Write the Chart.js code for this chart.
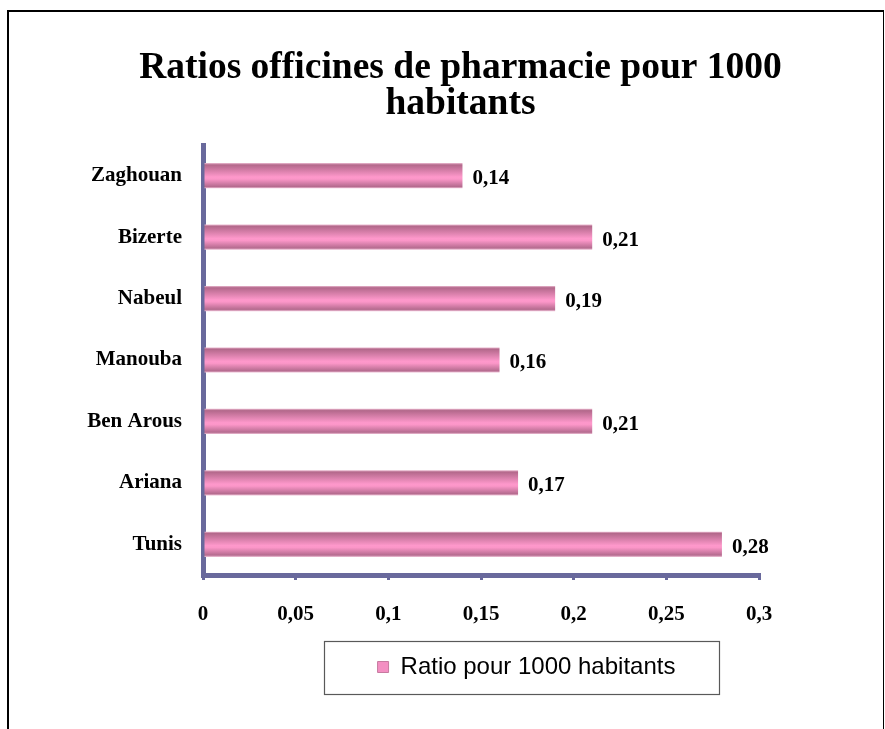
<!DOCTYPE html>
<html>
<head>
<meta charset="utf-8">
<title>Ratios officines de pharmacie</title>
<script src="https://cdn.jsdelivr.net/npm/chart.js@4/dist/chart.umd.min.js"></script>
<style>
    html, body { margin: 0; padding: 0; background: #fff; overflow: hidden; }
    #frame {
        position: absolute; left: 7px; top: 10px;
        width: 874px; height: 780px;
        border: 2px solid #000; border-right-width: 1.5px;
    }
    #chart { position: absolute; left: 0; top: 0; }
</style>
</head>
<body>
<div id="frame"></div>
<canvas id="chart" width="885" height="729"></canvas>
<script>
// gouvernorats du Grand Tunis + Nord-Est, listed top to bottom
const regions = ["Zaghouan", "Bizerte", "Nabeul", "Manouba", "Ben Arous", "Ariana", "Tunis"];
const ratios = [0.14, 0.21, 0.19, 0.16, 0.21, 0.17, 0.28];
const seriesLabel = "Ratio pour 1000 habitants";
const chartTitle = ["Ratios officines de pharmacie pour 1000", "habitants"];
const xTicks = { min: 0, max: 0.3, step: 0.05 };

const AXIS = "#69699c";
const PINK = "#f38fc2";
const BAR_PCT = 0.41;
const serif = "'Liberation Serif', 'Times New Roman', serif";

const fmt = v => Number(v.toFixed(2)).toString().replace(".", ",");

// each bar gets its own vertical gradient (tube look)
const barFill = (ctx) => {
    const chart = ctx.chart;
    const y = chart.scales && chart.scales.y;
    if (!chart.chartArea || !y || ctx.type !== "data") return PINK;
    const mid = y.getPixelForValue(ctx.dataIndex);
    const half = (y.height / regions.length) * BAR_PCT / 2;
    const g = chart.ctx.createLinearGradient(0, mid - half, 0, mid + half);
    g.addColorStop(0, "#eab8cf");
    g.addColorStop(0.07, "#b3688b");
    g.addColorStop(0.55, "#fe98cb");
    g.addColorStop(0.63, "#fb96c8");
    g.addColorStop(0.93, "#b56b8f");
    g.addColorStop(1, "#eec0d6");
    return g;
};

const valueLabels = {
    id: "valueLabels",
    afterDatasetsDraw(chart) {
        const ctx = chart.ctx;
        const meta = chart.getDatasetMeta(0);
        ctx.save();
        ctx.font = "bold 21px " + serif;
        ctx.fillStyle = "#000";
        ctx.textAlign = "left";
        ctx.textBaseline = "middle";
        meta.data.forEach((bar, i) => {
            ctx.fillText(fmt(ratios[i]), bar.x + 10, bar.y + 3);
        });
        ctx.restore();
    }
};

// title and legend are nudged right (the right padding pulls them left);
// the legend also gets a thin box around it
const shiftBoxes = {
    id: "shiftBoxes",
    afterLayout(chart) {
        chart.titleBlock.left += 81;
        chart.titleBlock.right += 81;
        chart.legend.left += 147;
        chart.legend.right += 147;
    },
    afterDraw(chart) {
        const hb = chart.legend.legendHitBoxes[0];
        if (!hb) return;
        const cx = hb.left + hb.width / 2 - 5;
        const cy = hb.top + hb.height / 2;
        const ctx = chart.ctx;
        ctx.save();
        ctx.strokeStyle = "#595959";
        ctx.lineWidth = 1.2;
        ctx.strokeRect(Math.round(cx - 197.5) + 0.5, Math.round(cy - 26.5) + 0.5, 395, 53);
        ctx.restore();
    }
};

new Chart(document.getElementById("chart"), {
    type: "bar",
    data: {
        labels: regions,
        datasets: [{
            label: seriesLabel,
            data: ratios,
            backgroundColor: barFill,
            borderWidth: 0,
            barPercentage: BAR_PCT,
            categoryPercentage: 1
        }]
    },
    options: {
        indexAxis: "y",
        responsive: false,
        animation: false,
        layout: { padding: { left: 0, right: 126, top: 0, bottom: 40 } },
        scales: {
            x: {
                min: xTicks.min,
                max: xTicks.max,
                afterFit: (scale) => { scale.height = 70; },
                ticks: {
                    stepSize: xTicks.step,
                    padding: 22,
                    color: "#000",
                    font: { family: serif, size: 21, weight: "bold" },
                    callback: v => fmt(v)
                },
                grid: {
                    drawOnChartArea: false,
                    drawTicks: true,
                    tickLength: 5,
                    tickColor: AXIS,
                    lineWidth: 3
                },
                border: { display: true, color: AXIS, width: 5 }
            },
            y: {
                afterFit: (scale) => { scale.width = 203; },
                ticks: {
                    padding: 21,
                    color: "#000",
                    font: { family: serif, size: 21, weight: "bold" }
                },
                grid: { display: false, drawTicks: false },
                border: { display: true, color: AXIS, width: 5 }
            }
        },
        plugins: {
            title: {
                display: true,
                text: chartTitle,
                color: "#000",
                font: { family: serif, size: 37.5, weight: "bold", lineHeight: 0.96 },
                padding: { top: 50, bottom: 23 }
            },
            legend: {
                position: "bottom",
                labels: {
                    boxWidth: 11,
                    boxHeight: 11,
                    padding: 10,
                    color: "#000",
                    font: { family: "'Liberation Sans', Arial, sans-serif", size: 24 },
                    generateLabels: (chart) => [{
                        text: seriesLabel,
                        fillStyle: PINK,
                        strokeStyle: "#c77aa0",
                        lineWidth: 1,
                        datasetIndex: 0
                    }]
                }
            },
            tooltip: { enabled: false }
        }
    },
    plugins: [valueLabels, shiftBoxes]
});
</script>
</body>
</html>
